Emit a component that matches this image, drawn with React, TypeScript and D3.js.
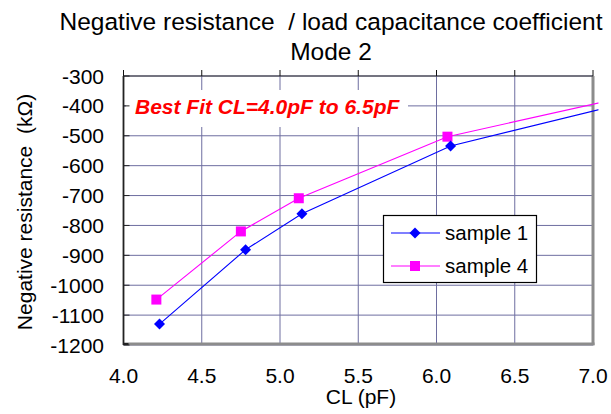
import React from "react";
import * as d3 from "d3";

const titleLines = ["Negative resistance  / load capacitance coefficient", "Mode 2"];
const xTicks = [4.0, 4.5, 5.0, 5.5, 6.0, 6.5, 7.0];
const yTicks = [-300, -400, -500, -600, -700, -800, -900, -1000, -1100, -1200];
const sample1CL = [4.23, 4.78, 5.14, 6.09, 7.2];
const sample1R = [-1130, -881, -761, -534, -392];
const sample4CL = [4.21, 4.75, 5.12, 6.07, 7.2];
const sample4R = [-1048, -820, -709, -503, -371];
const seriesNames = ["sample 1", "sample 4"];
const annotation = "Best Fit CL=4.0pF to 6.5pF";
const xLabel = "CL (pF)";
const yLabel = "Negative resistance  (kΩ)";

const W = 611, H = 414;
const L = 123.5, R = 593, T = 76, B = 345;
const FONT = "Arial, 'Liberation Sans', sans-serif";

export default function App() {
  const x = d3.scaleLinear().domain([4, 7]).range([L, R]);
  const y = d3.scaleLinear().domain([-1200, -300]).range([B, T]);
  const line = d3.line<[number, number]>().x(d => x(d[0])).y(d => y(d[1]));
  const s1 = sample1CL.map((c, i) => [c, sample1R[i]] as [number, number]);
  const s4 = sample4CL.map((c, i) => [c, sample4R[i]] as [number, number]);
  const grid = "#6e6ea0";
  const blue = "#0000ff";
  const pink = "#ff00ff";
  const diamond = (cx: number, cy: number, k: string) => (
    <path key={k} d={`M${cx},${cy - 5.5}L${cx + 5.5},${cy}L${cx},${cy + 5.5}L${cx - 5.5},${cy}Z`} fill={blue} />
  );
  const square = (cx: number, cy: number, k: string) => (
    <rect key={k} x={cx - 5} y={cy - 5} width={10} height={10} fill={pink} />
  );
  return (
    <svg width={W} height={H} style={{ position: "absolute", left: 0, top: 0, background: "#fff", whiteSpace: "pre" }} fontFamily={FONT}>
      <defs>
        <clipPath id="plotclip">
          <rect x={L} y={T - 10} width={R - L + 5.5} height={B - T + 10} />
        </clipPath>
      </defs>
      <rect x={0} y={0} width={W} height={H} fill="#fff" />
      {titleLines.map((t, i) => (
        <text key={t} x={331} y={29.5 + i * 30.5} textAnchor="middle" fontSize={24.5} fill="#000" style={{ whiteSpace: "pre" }}>{t}</text>
      ))}
      {/* gridlines */}
      {yTicks.map(v => (
        <line key={"gy" + v} x1={L} x2={R} y1={y(v)} y2={y(v)} stroke={grid} strokeWidth={1} />
      ))}
      {xTicks.map(v => (
        <line key={"gx" + v} x1={x(v)} x2={x(v)} y1={T} y2={B} stroke={grid} strokeWidth={1} />
      ))}
      {/* annotation background */}
      <rect x={126} y={90} width={282} height={37} fill="#fff" />
      <text x={135} y={114} fontSize={21} fontWeight="bold" fontStyle="italic" fill="#ff0000">{annotation}</text>
      {/* borders */}
      <line x1={R} x2={R} y1={T} y2={B} stroke="#8c8c8c" strokeWidth={3} />
      <line x1={L} x2={R + 1.5} y1={B - 1} y2={B - 1} stroke="#8c8c8c" strokeWidth={3} />
      <line x1={L} x2={R} y1={T} y2={T} stroke="#333" strokeWidth={1.2} />
      <line x1={L} x2={L} y1={T} y2={B} stroke="#222" strokeWidth={1.8} />
      <line x1={L} x2={L + 5} y1={B - 1} y2={B - 1} stroke="#222" strokeWidth={2} />
      {xTicks.map(v => (
        <line key={"tx" + v} x1={x(v)} x2={x(v)} y1={T - 6} y2={T} stroke="#111" strokeWidth={1} />
      ))}
      {yTicks.map(v => (
        <line key={"ty" + v} x1={L} x2={L + 6} y1={y(v)} y2={y(v)} stroke="#222" strokeWidth={1} />
      ))}
      {/* series */}
      <g clipPath="url(#plotclip)">
        <path d={line(s4) || ""} fill="none" stroke={pink} strokeWidth={1.1} />
        <path d={line(s1) || ""} fill="none" stroke={blue} strokeWidth={1.1} />
        {s4.map((d, i) => square(x(d[0]), y(d[1]), "s4" + i))}
        {s1.map((d, i) => diamond(x(d[0]), y(d[1]), "s1" + i))}
      </g>
      {/* tick labels */}
      {yTicks.map(v => (
        <text key={"ly" + v} x={104} y={y(v)} dy="0.36em" textAnchor="end" fontSize={21} fill="#000">{v}</text>
      ))}
      {xTicks.map(v => (
        <text key={"lx" + v} x={x(v)} y={383} textAnchor="middle" fontSize={21} fill="#000">{v.toFixed(1)}</text>
      ))}
      <text x={361} y={404} textAnchor="middle" fontSize={21} fill="#000">{xLabel}</text>
      <text transform="translate(32,212) rotate(-90)" textAnchor="middle" fontSize={21} fill="#000" style={{ whiteSpace: "pre" }}>{yLabel}</text>
      {/* legend */}
      <rect x={383.5} y={215.5} width={153} height={67} fill="#fff" stroke="#000" strokeWidth={1.2} />
      <line x1={391} x2={440} y1={233} y2={233} stroke={blue} strokeWidth={1.1} />
      {diamond(415, 233, "lg1")}
      <text x={445} y={233} dy="0.36em" fontSize={20.5} fill="#000">{seriesNames[0]}</text>
      <line x1={391} x2={440} y1={266} y2={266} stroke={pink} strokeWidth={1.1} />
      {square(415, 266, "lg4")}
      <text x={445} y={266} dy="0.36em" fontSize={20.5} fill="#000">{seriesNames[1]}</text>
    </svg>
  );
}
